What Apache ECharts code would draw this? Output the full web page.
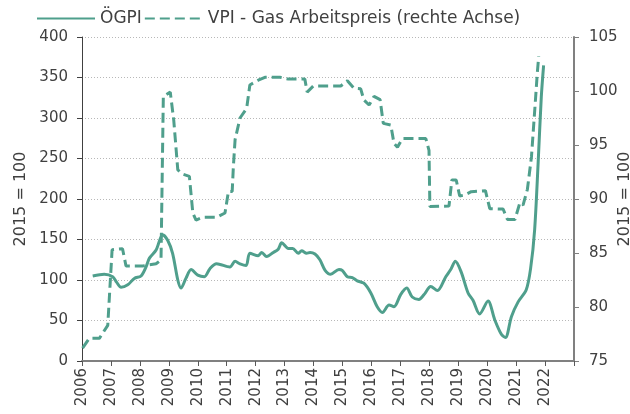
<!DOCTYPE html>
<html>
<head>
<meta charset="utf-8">
<script src="https://cdn.jsdelivr.net/npm/echarts@6/dist/echarts.min.js"></script>
<style>
html, body { margin: 0; padding: 0; background: #fff; }
#container { width: 630px; height: 414px; }
</style>
</head>
<body>
<div id="container"></div>
<script>
var dom = document.getElementById("container");
var myChart = echarts.init(dom);

var yearTicks = [2006, 2007, 2008, 2009, 2010, 2011, 2012, 2013, 2014, 2015, 2016, 2017, 2018, 2019, 2020, 2021, 2022];

// ÖGPI (left axis), [year, value]
var oegpiX = [2006.37, 2006.77, 2007.06, 2007.2, 2007.35, 2007.58, 2007.81, 2008.04, 2008.21, 2008.33, 2008.56, 2008.79, 2008.96, 2009.13, 2009.31, 2009.42, 2009.59, 2009.77, 2010.0, 2010.23,
    2010.42, 2010.65, 2011.11, 2011.29, 2011.46, 2011.67, 2011.8, 2012.09, 2012.21, 2012.38, 2012.61, 2012.78, 2012.9, 2013.13, 2013.28, 2013.47, 2013.59, 2013.76, 2013.88, 2014.05, 2014.22, 2014.4,
    2014.59, 2014.88, 2014.99, 2015.17, 2015.34, 2015.51, 2015.74, 2015.98, 2016.2, 2016.38, 2016.61, 2016.78, 2017.01, 2017.22, 2017.41, 2017.64, 2017.82, 2018.05, 2018.28, 2018.57, 2018.74,
    2018.9, 2019.1, 2019.34, 2019.51, 2019.74, 2020.03, 2020.26, 2020.49, 2020.63, 2020.84, 2021.07, 2021.35, 2021.5, 2021.64, 2021.76, 2021.87, 2021.95];
var oegpiY = [105, 107, 104, 97, 91, 94, 102, 105, 116, 127, 137, 156, 149, 133, 100, 90, 102, 113, 106, 104,
    114, 120, 116, 123, 120, 118, 133, 130, 134, 129, 134, 138, 146, 139, 139, 133, 136, 133, 134, 132, 125, 112,
    107, 113, 112, 104, 103, 99, 96, 84, 67, 60, 69, 67, 82, 90, 79, 76, 82, 92, 87, 104, 113,
    123, 110, 84, 75, 58, 74, 51, 33, 29, 55, 73, 88, 114, 162, 244, 326, 365];

// VPI - Gas Arbeitspreis (right axis), [year, value]
var vpiX = [2006.02, 2006.25, 2006.6, 2006.89, 2007.04, 2007.4, 2007.52, 2008.1, 2008.56, 2008.73, 2008.81, 2009.05, 2009.17, 2009.31, 2009.48, 2009.71, 2009.83, 2009.94, 2010.17,
    2010.65, 2010.94, 2011.06, 2011.19, 2011.23, 2011.29, 2011.46, 2011.69, 2011.8, 2012.09, 2012.32, 2012.84, 2013.13, 2013.7, 2013.78, 2013.99, 2014.94,
    2015.17, 2015.4, 2015.63, 2015.74, 2015.92, 2016.09, 2016.3, 2016.41, 2016.67, 2016.78, 2016.9, 2017.07, 2017.88, 2017.99, 2018.02, 2018.68, 2018.78,
    2018.93, 2019.05, 2019.22, 2019.45, 2019.94, 2020.09, 2020.55, 2020.7, 2020.96, 2021.13, 2021.24, 2021.39, 2021.53, 2021.66, 2021.73, 2021.78];
var vpiY = [76.2, 77.1, 77.1, 78.3, 85.3, 85.4, 83.8, 83.8, 84.0, 84.35, 99.5, 99.9, 97.3, 92.7, 92.3, 92.1, 88.7, 88.05, 88.3,
    88.3, 88.7, 90.7, 90.7, 93.0, 95.5, 97.5, 98.4, 100.56, 101.0, 101.27, 101.27, 101.1, 101.1, 99.9, 100.46, 100.46,
    100.95, 100.25, 100.2, 99.17, 98.7, 99.5, 99.2, 97.0, 96.85, 95.15, 94.8, 95.6, 95.6, 94.5, 89.3, 89.35, 91.76,
    91.76, 90.28, 90.37, 90.68, 90.77, 89.1, 89.07, 88.1, 88.1, 89.66, 89.44, 90.9, 93.9, 98.86, 101.6, 103.2];

function pairs(xs, ys) {
    var out = [];
    for (var i = 0; i < xs.length; i++) out.push([xs[i], ys[i]]);
    return out;
}

var teal = '#4f9f8c';
var textColor = '#404040';
var font = 'DejaVu Sans';

option = {
    animation: false,
    textStyle: { fontFamily: font, color: textColor },
    legend: {
        top: 5,
        left: 31,
        itemWidth: 58,
        itemHeight: 12,
        itemGap: 2,
        itemStyle: { opacity: 0 },
        textStyle: { fontSize: 17, color: textColor, fontFamily: font },
        data: ['ÖGPI', 'VPI - Gas Arbeitspreis (rechte Achse)']
    },
    grid: { left: 82, right: 56, top: 37, bottom: 53, outerBoundsMode: 'none', containLabel: false },
    xAxis: {
        type: 'value',
        min: 2006,
        max: 2023,
        interval: 1,
        axisLine: { show: true, onZero: false, lineStyle: { color: '#808080', width: 2 } },
        axisTick: { show: true, inside: false, length: 5, lineStyle: { color: '#595959' } },
        splitLine: { show: false },
        axisLabel: {
            rotate: 90,
            fontSize: 15,
            color: textColor,
            margin: 7,
            formatter: function (v) { return yearTicks.indexOf(v) >= 0 ? String(v) : ''; }
        }
    },
    yAxis: [
        {
            type: 'value',
            min: 0,
            max: 400,
            interval: 50,
            name: '2015 = 100',
            nameLocation: 'middle',
            nameRotate: 90,
            nameGap: 53,
            nameMoveOverlap: false,
            nameTextStyle: { fontSize: 16, color: textColor },
            axisLine: { show: true, lineStyle: { color: '#404040', width: 1 } },
            axisTick: { show: true, length: 5, lineStyle: { color: '#404040' } },
            axisLabel: { fontSize: 15, color: textColor, margin: 14 },
            splitLine: { show: true, lineStyle: { color: '#b8b8b8', type: [1, 2], width: 1 } }
        },
        {
            type: 'value',
            min: 75,
            max: 105,
            interval: 5,
            position: 'right',
            name: '2015 = 100',
            nameLocation: 'middle',
            nameRotate: 90,
            nameGap: 43,
            nameMoveOverlap: false,
            nameTextStyle: { fontSize: 16, color: textColor },
            axisLine: { show: true, lineStyle: { color: '#808080', width: 2 } },
            axisTick: { show: true, length: 5, lineStyle: { color: '#808080' } },
            axisLabel: { fontSize: 15, color: textColor, margin: 15 },
            splitLine: { show: false }
        }
    ],
    series: [
        {
            name: 'ÖGPI',
            type: 'line',
            yAxisIndex: 0,
            symbol: 'none',
            smooth: 0.3,
            lineStyle: { color: teal, width: 3 },
            itemStyle: { color: teal },
            data: pairs(oegpiX, oegpiY)
        },
        {
            name: 'VPI - Gas Arbeitspreis (rechte Achse)',
            type: 'line',
            yAxisIndex: 1,
            symbol: 'none',
            lineStyle: { color: teal, width: 3, type: [10, 5] },
            itemStyle: { color: teal },
            data: pairs(vpiX, vpiY)
        }
    ]
};

if (option && typeof option === "object") {
    myChart.setOption(option, true);
}
</script>
</body>
</html>
